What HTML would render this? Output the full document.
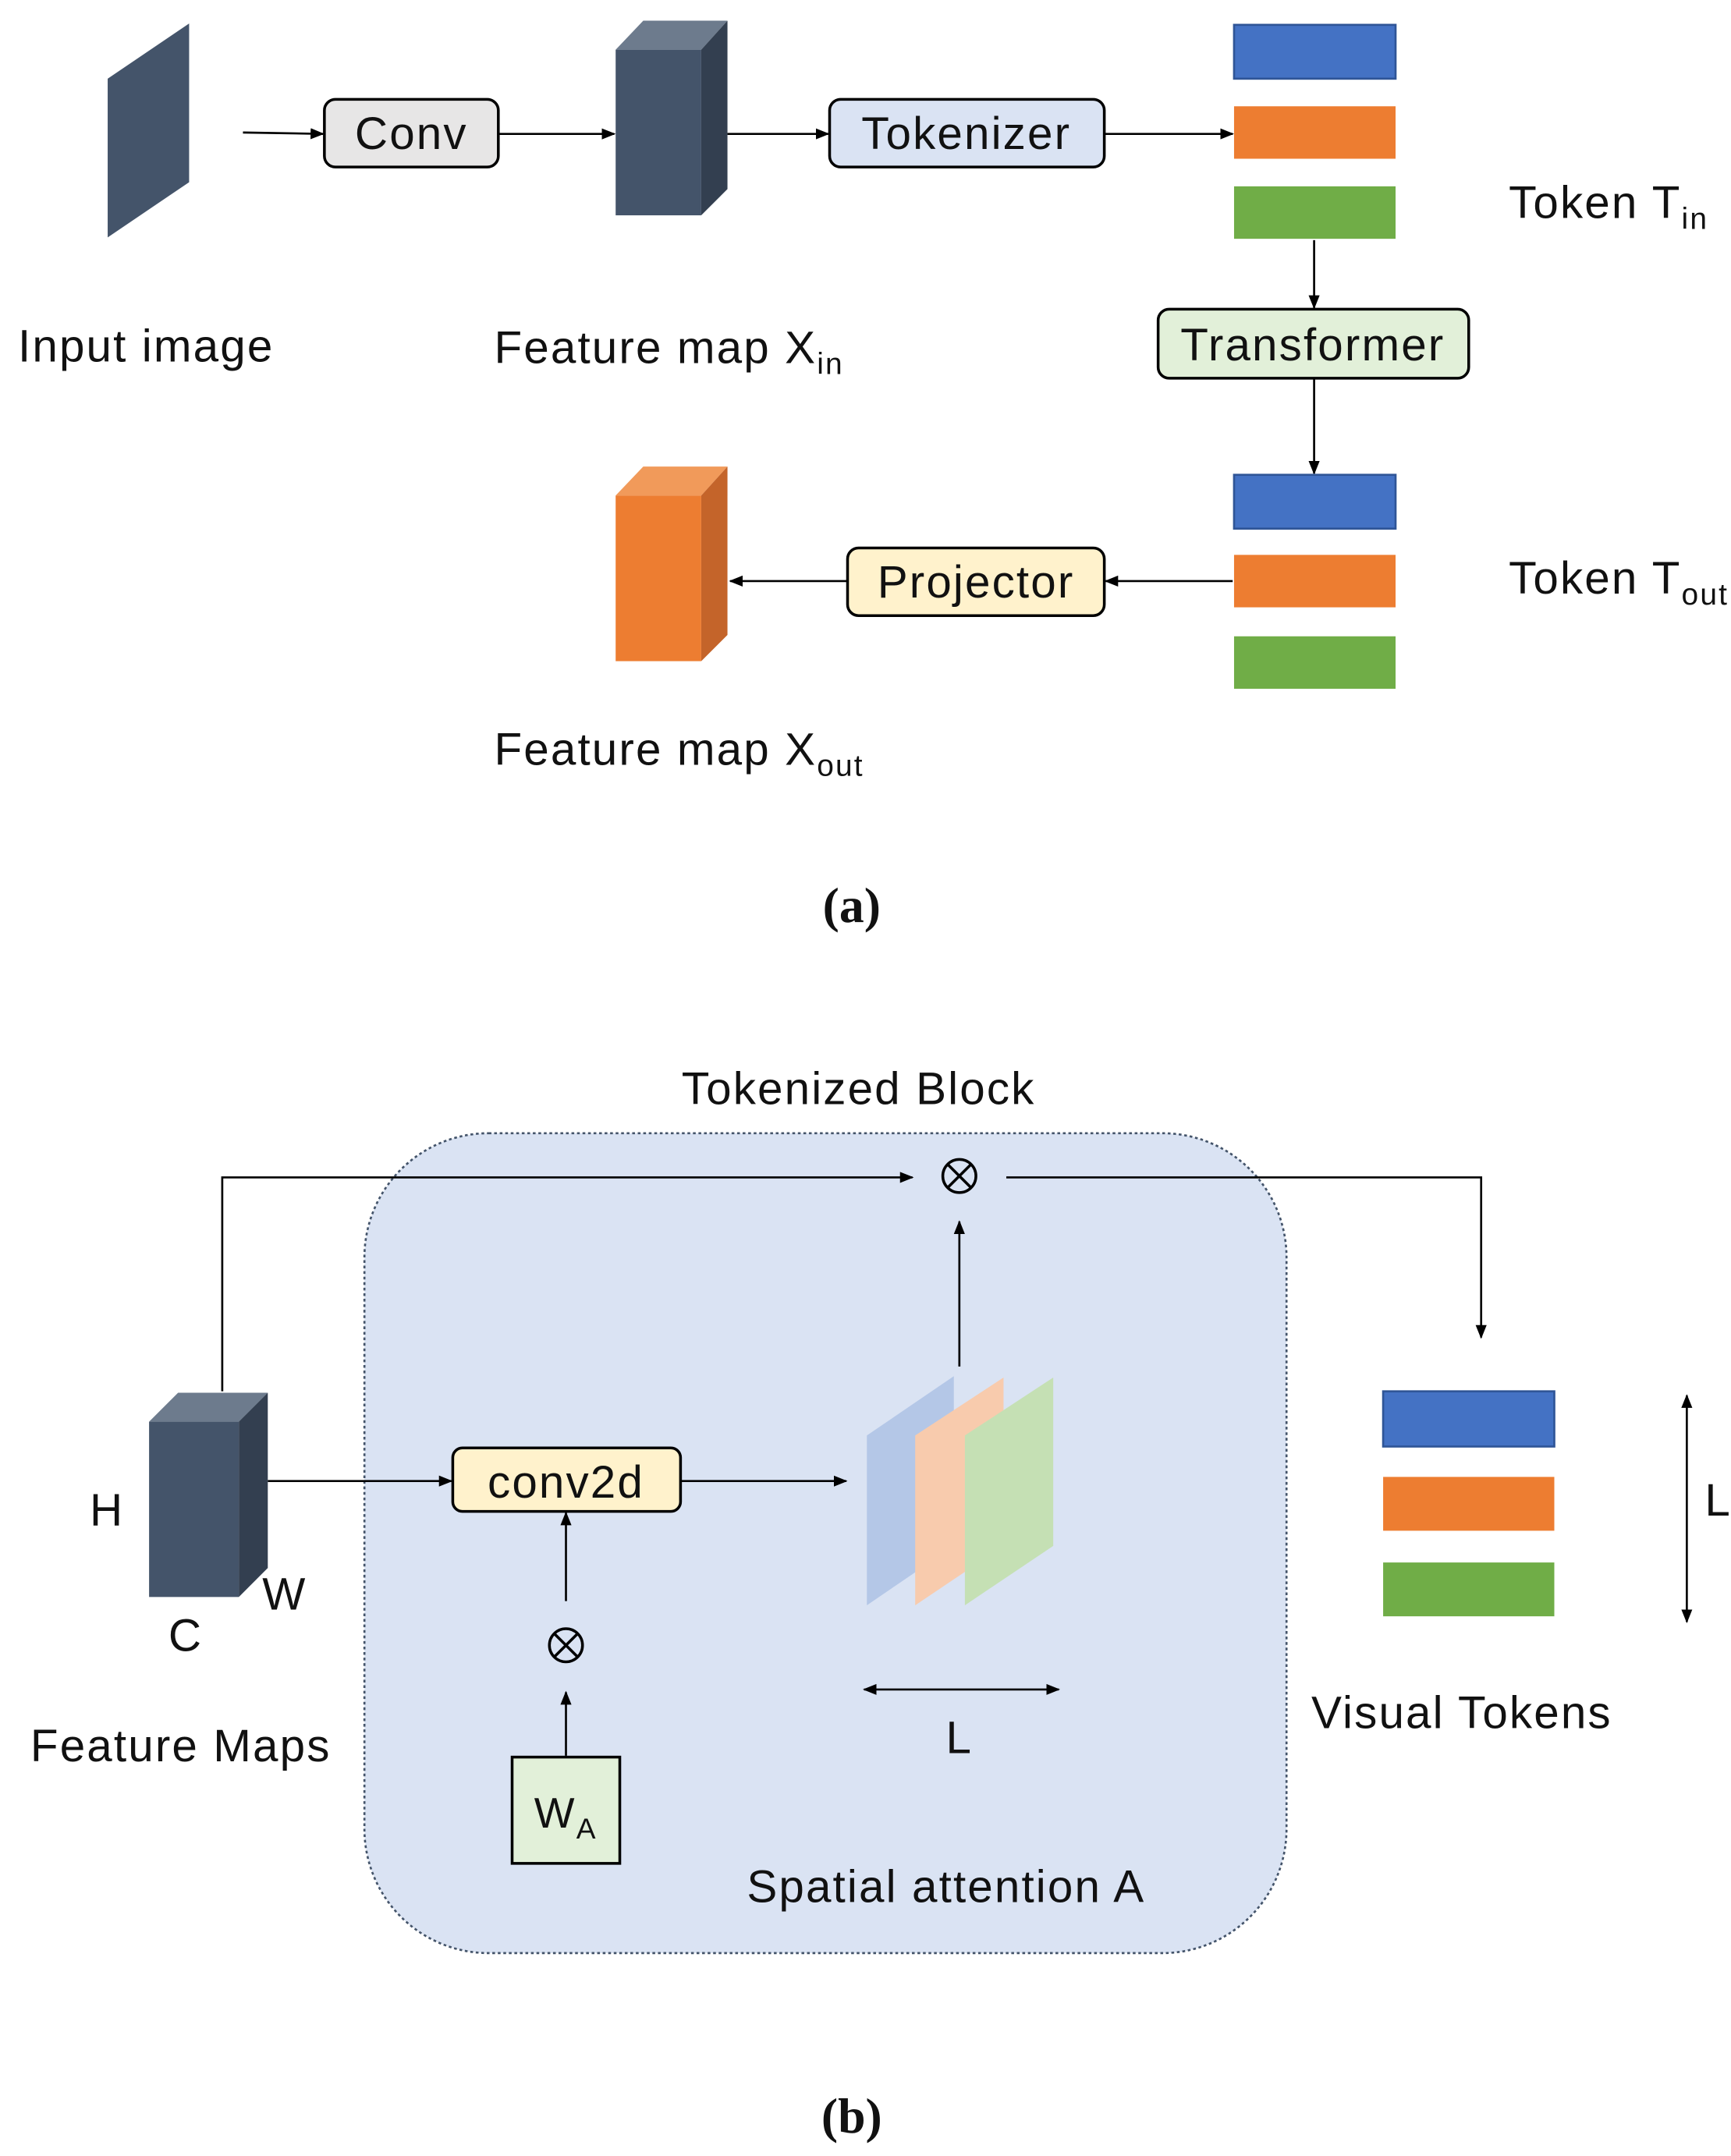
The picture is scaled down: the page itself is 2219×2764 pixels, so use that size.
<!DOCTYPE html>
<html><head><meta charset="utf-8"><style>
html,body{margin:0;padding:0;background:#fff;}
svg{display:block;}
text{font-family:"Liberation Sans",sans-serif;fill:#111;letter-spacing:1.2px;}
text.cap{letter-spacing:0;}
</style></head><body>
<svg width="2219" height="2764" viewBox="0 0 1254 1562" xmlns="http://www.w3.org/2000/svg">
<defs>
<marker id="ah" markerWidth="10" markerHeight="10" refX="9" refY="5" orient="auto" markerUnits="userSpaceOnUse">
<path d="M0,1 L10,5 L0,9 Z" fill="#000"/></marker>
<marker id="as" markerWidth="10" markerHeight="10" refX="1" refY="5" orient="auto" markerUnits="userSpaceOnUse">
<path d="M10,1 L0,5 L10,9 Z" fill="#000"/></marker>
</defs>
<g stroke="#000" stroke-width="1.5" fill="none">
<line x1="176" y1="96" x2="234" y2="97" marker-end="url(#ah)"/>
<line x1="361" y1="97" x2="445" y2="97" marker-end="url(#ah)"/>
<line x1="527" y1="97" x2="600" y2="97" marker-end="url(#ah)"/>
<line x1="800" y1="97" x2="893" y2="97" marker-end="url(#ah)"/>
<line x1="952" y1="174" x2="952" y2="223" marker-end="url(#ah)"/>
<line x1="952" y1="274" x2="952" y2="343" marker-end="url(#ah)"/>
<line x1="893" y1="421" x2="801" y2="421" marker-end="url(#ah)"/>
<line x1="614" y1="421" x2="529" y2="421" marker-end="url(#ah)"/>
</g>
<polygon points="78,57 137,17 137,132 78,172" fill="#44546a"/>
<polygon points="446,36 466,15 527,15 508,36" fill="#6d7b8d"/>
<polygon points="508,36 527,15 527,137 508,156" fill="#333f50"/>
<rect x="446" y="36" width="62" height="120" fill="#44546a"/>
<rect x="235" y="72" width="126" height="49" rx="8" fill="#e7e6e6" stroke="#000" stroke-width="2"/>
<text x="298" y="108" font-size="33" text-anchor="middle">Conv</text>
<rect x="601" y="72" width="199" height="49" rx="8" fill="#dae3f3" stroke="#000" stroke-width="2"/>
<text x="700" y="108" font-size="33" text-anchor="middle">Tokenizer</text>
<rect x="839" y="224" width="225" height="50" rx="8" fill="#e2f0d9" stroke="#000" stroke-width="2"/>
<text x="951" y="261" font-size="33" text-anchor="middle">Transformer</text>
<rect x="614" y="397" width="186" height="49" rx="8" fill="#fff2cc" stroke="#000" stroke-width="2"/>
<text x="707" y="433" font-size="33" text-anchor="middle">Projector</text>
<rect x="894" y="18" width="117" height="39" fill="#4472c4" stroke="#2f5597" stroke-width="1.5"/>
<rect x="894" y="77" width="117" height="38" fill="#ed7d31"/>
<rect x="894" y="135" width="117" height="38" fill="#70ad47"/>
<rect x="894" y="344" width="117" height="39" fill="#4472c4" stroke="#2f5597" stroke-width="1.5"/>
<rect x="894" y="402" width="117" height="38" fill="#ed7d31"/>
<rect x="894" y="461" width="117" height="38" fill="#70ad47"/>
<text x="1093" y="158" font-size="33">Token T<tspan font-size="22" dy="8">in</tspan></text>
<text x="1093" y="430" font-size="33">Token T<tspan font-size="22" dy="8">out</tspan></text>
<polygon points="446,359 466,338 527,338 508,359" fill="#f19a5a"/>
<polygon points="508,359 527,338 527,460 508,479" fill="#c4642a"/>
<rect x="446" y="359" width="62" height="120" fill="#ed7d31"/>
<text x="13" y="262" font-size="33">Input image</text>
<text x="358" y="263" font-size="33">Feature map X<tspan font-size="22" dy="8">in</tspan></text>
<text x="358" y="554" font-size="33">Feature map X<tspan font-size="22" dy="8">out</tspan></text>
<text class="cap" x="617" y="668" font-size="36" font-weight="bold" text-anchor="middle" style="font-family:'Liberation Serif',serif">(a)</text>

<rect x="264" y="821" width="668" height="594" rx="90" fill="#dae3f3" stroke="#44546a" stroke-width="1.5" stroke-dasharray="2,2"/>
<text x="622" y="800" font-size="33" text-anchor="middle">Tokenized Block</text>
<g stroke="#000" stroke-width="1.5" fill="none">
<polyline points="161,1008 161,853 661,853" marker-end="url(#ah)"/>
<polyline points="729,853 1073,853 1073,969" marker-end="url(#ah)"/>
<line x1="695" y1="990" x2="695" y2="885" marker-end="url(#ah)"/>
<line x1="194" y1="1073" x2="327" y2="1073" marker-end="url(#ah)"/>
<line x1="493" y1="1073" x2="613" y2="1073" marker-end="url(#ah)"/>
<line x1="410" y1="1160" x2="410" y2="1096" marker-end="url(#ah)"/>
<line x1="410" y1="1272" x2="410" y2="1226" marker-end="url(#ah)"/>
<line x1="626" y1="1224" x2="767" y2="1224" marker-start="url(#as)" marker-end="url(#ah)"/>
<line x1="1222" y1="1011" x2="1222" y2="1175" marker-start="url(#as)" marker-end="url(#ah)"/>
<circle cx="695" cy="852" r="12" stroke-width="2"/>
<path d="M687,844 L703,860 M703,844 L687,860" stroke-width="2"/>
<circle cx="410" cy="1192" r="12" stroke-width="2"/>
<path d="M402,1184 L418,1200 M418,1184 L402,1200" stroke-width="2"/>
</g>
<polygon points="108,1030 129,1009 194,1009 173,1030" fill="#6d7b8d"/>
<polygon points="173,1030 194,1009 194,1136 173,1157" fill="#333f50"/>
<rect x="108" y="1030" width="65" height="127" fill="#44546a"/>
<text x="65" y="1105" font-size="33">H</text>
<text x="190" y="1166" font-size="33">W</text>
<text x="122" y="1196" font-size="33">C</text>
<text x="22" y="1276" font-size="33">Feature Maps</text>
<rect x="328" y="1049" width="165" height="46" rx="7" fill="#fff2cc" stroke="#000" stroke-width="2"/>
<text x="410" y="1085" font-size="33" text-anchor="middle">conv2d</text>
<polygon points="628,1040 691,997 691,1120 628,1163" fill="#b4c7e7"/>
<polygon points="663,1040 727,998 727,1120 663,1163" fill="#f8cbad"/>
<polygon points="699,1040 763,998 763,1120 699,1163" fill="#c5e0b4"/>
<text x="695" y="1270" font-size="33" text-anchor="middle">L</text>
<rect x="371" y="1273" width="78" height="77" fill="#e2f0d9" stroke="#000" stroke-width="2"/>
<text x="387" y="1324" font-size="31">W<tspan font-size="21" dy="8">A</tspan></text>
<text x="541" y="1378" font-size="33">Spatial attention A</text>
<rect x="1002" y="1008" width="124" height="40" fill="#4472c4" stroke="#2f5597" stroke-width="1.5"/>
<rect x="1002" y="1070" width="124" height="39" fill="#ed7d31"/>
<rect x="1002" y="1132" width="124" height="39" fill="#70ad47"/>
<text x="1235" y="1098" font-size="33">L</text>
<text x="950" y="1252" font-size="33">Visual Tokens</text>
<text class="cap" x="617" y="1545" font-size="36" font-weight="bold" text-anchor="middle" style="font-family:'Liberation Serif',serif">(b)</text>
</svg>
</body></html>
